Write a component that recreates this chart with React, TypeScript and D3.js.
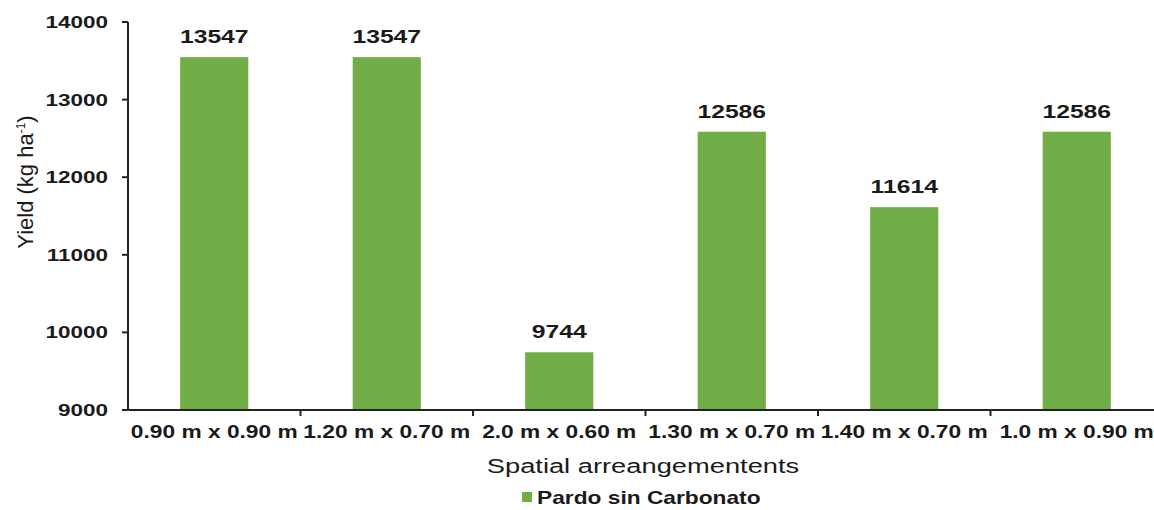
import React from "react";
import * as d3 from "d3";

const categories = [
  "0.90 m x 0.90 m",
  "1.20 m x 0.70 m",
  "2.0 m x 0.60 m",
  "1.30 m x 0.70 m",
  "1.40 m x 0.70 m",
  "1.0 m x 0.90 m",
];
const yieldValues = [13547, 13547, 9744, 12586, 11614, 12586];
const yTicks = [9000, 10000, 11000, 12000, 13000, 14000];
const seriesName = "Pardo sin Carbonato";
const xTitle = "Spatial arreangementents";

const W = 1154;
const H = 510;
const left = 128;
const right = 1163;
const top = 22;
const bottom = 410;
const green = "#70AD47";
const font = "'Liberation Sans', Arial, sans-serif";
const SX = 1.3;

function WideText(props: {
  x: number;
  y: number;
  size: number;
  bold?: boolean;
  anchor?: "start" | "middle" | "end";
  baseline?: string;
  children: React.ReactNode;
}) {
  const { x, y, size, bold = true, anchor = "middle", baseline, children } = props;
  return (
    <text
      transform={`translate(${x},${y}) scale(${SX},1)`}
      fontFamily={font}
      fontSize={size}
      fontWeight={bold ? 700 : 400}
      textAnchor={anchor}
      dominantBaseline={baseline}
      fill="#1a1a1a"
    >
      {children}
    </text>
  );
}

export default function App() {
  const x = d3.scaleBand<string>().domain(categories).range([left, right]).padding(0);
  const y = d3.scaleLinear().domain([9000, 14000]).range([bottom, top]);
  const bw = x.bandwidth();
  const barW = bw * 0.395;

  return (
    <svg
      width={W}
      height={H}
      style={{ position: "absolute", left: 0, top: 0, background: "#fff" }}
    >
      {/* bars with value labels */}
      {categories.map((c, i) => {
        const cx = (x(c) as number) + bw / 2;
        const v = yieldValues[i];
        return (
          <g key={c}>
            <rect x={cx - barW / 2} y={y(v)} width={barW} height={bottom - y(v)} fill={green} />
            <WideText x={cx} y={y(v) - 14} size={19}>
              {String(v)}
            </WideText>
          </g>
        );
      })}

      {/* y axis */}
      <line x1={left} x2={left} y1={top} y2={bottom} stroke="#222" strokeWidth={2} />
      {yTicks.map((t) => (
        <g key={t}>
          <line x1={left - 6} x2={left} y1={y(t)} y2={y(t)} stroke="#222" strokeWidth={2} />
          <WideText x={left - 20} y={y(t)} size={17.3} anchor="end" baseline="central">
            {String(t)}
          </WideText>
        </g>
      ))}

      {/* x axis with ticks between categories */}
      <line x1={left - 6} x2={right} y1={bottom} y2={bottom} stroke="#222" strokeWidth={2} />
      {categories.map((c, i) => {
        const bx = (x(c) as number) + bw;
        return i < categories.length - 1 ? (
          <line key={"t" + c} x1={bx} x2={bx} y1={bottom} y2={bottom + 6} stroke="#222" strokeWidth={2} />
        ) : null;
      })}
      {categories.map((c) => (
        <WideText key={"l" + c} x={(x(c) as number) + bw / 2} y={438} size={17.5}>
          {c}
        </WideText>
      ))}

      {/* axis titles */}
      <WideText x={643} y={473} size={21} bold={false}>
        {xTitle}
      </WideText>
      <text
        transform="translate(33,182) rotate(-90)"
        fontFamily={font}
        fontSize={22}
        textAnchor="middle"
        fill="#1a1a1a"
      >
        Yield (kg ha
        <tspan fontSize={12} dy={-8}>-1</tspan>
        <tspan dy={8}>)</tspan>
      </text>

      {/* legend */}
      <rect x={522} y={492} width={10} height={10} fill={green} />
      <WideText x={537} y={504} size={17.5} anchor="start">
        {seriesName}
      </WideText>
    </svg>
  );
}
